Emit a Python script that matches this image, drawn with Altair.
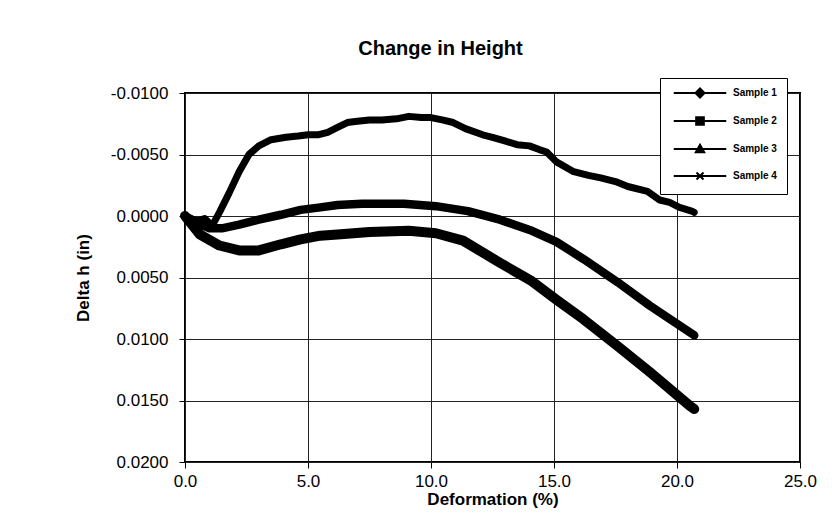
import altair as alt
import pandas as pd

samples = ["Sample 1", "Sample 2", "Sample 3", "Sample 4"]

s1_x = [0.0, 0.5, 0.8, 1.1, 1.4, 1.8, 2.2, 2.6, 3.0, 3.5, 4.1, 4.6, 5.0, 5.4, 5.8, 6.2,
        6.6, 7.0, 7.5, 8.0, 8.6, 9.1, 9.6, 10.0, 10.5, 10.9, 11.4, 12.1, 12.5, 13.0, 13.5,
        14.0, 14.4, 14.7, 15.1, 15.8, 16.4, 16.9, 17.5, 18.0, 18.8, 19.3, 19.7, 20.1, 20.6, 20.7]
s1_y = [0.0, 0.0004, 0.0002, 0.0008, -0.0003, -0.0019, -0.0036, -0.0050, -0.0057, -0.0062,
        -0.0064, -0.0065, -0.0066, -0.0066, -0.0068, -0.0072, -0.0076, -0.0077, -0.0078,
        -0.0078, -0.0079, -0.0081, -0.0080, -0.0080, -0.0078, -0.0076, -0.0071, -0.0066,
        -0.0064, -0.0061, -0.0058, -0.0057, -0.0054, -0.0052, -0.0044, -0.0036, -0.0033,
        -0.0031, -0.0028, -0.0024, -0.0020, -0.0013, -0.0011, -0.0007, -0.0004, -0.0003]

s2_x = [0.0, 0.5, 1.0, 1.5, 2.2, 3.0, 3.9, 4.7, 5.5, 6.2, 7.2, 8.9, 10.2, 11.5, 12.8,
        14.1, 15.1, 16.2, 17.6, 18.9, 20.7]
s2_y = [0.0, 0.0006, 0.0010, 0.0010, 0.0007, 0.0003, -0.0001, -0.0005, -0.0007, -0.0009,
        -0.0010, -0.0010, -0.0008, -0.0004, 0.0003, 0.0012, 0.0021, 0.0035, 0.0054, 0.0073,
        0.0097]

s3_x = [0.0, 0.6, 1.4, 2.2, 3.0, 3.9, 4.7, 5.5, 6.2, 7.5, 9.1, 10.2, 11.3, 12.8,
        14.1, 15.1, 16.2, 17.6, 18.9, 20.5, 20.7]
s3_y = [0.0, 0.0015, 0.0024, 0.0028, 0.0028, 0.0023, 0.0019, 0.0016, 0.0015,
        0.0013, 0.0012, 0.0014, 0.0020, 0.0038, 0.0053, 0.0068, 0.0084, 0.0106, 0.0127,
        0.0154, 0.0157]

x_ticks = [0, 5, 10, 15, 20, 25]
y_ticks = [-0.01, -0.005, 0.0, 0.005, 0.01, 0.015, 0.02]

frames = []
for name, xs, ys in [("Sample 1", s1_x, s1_y), ("Sample 2", s2_x, s2_y), ("Sample 3", s3_x, s3_y)]:
    frames.append(pd.DataFrame({"sample": name, "x": xs, "y": ys, "order": range(len(xs))}))
df = pd.concat(frames, ignore_index=True)

# one legend key per sample, with no position (nothing is drawn for it)
keys_df = pd.DataFrame({"sample": samples, "x": [None] * 4, "y": [None] * 4})

FONT = "Liberation Sans"

legend_shapes = [
    "M-7.5,0H7.5M0,-1.3L1.3,0L0,1.3L-1.3,0Z",
    "M-7.5,0H7.5M-1.1,-1.1H1.1V1.1H-1.1Z",
    "M-7.5,0H7.5M0,-1.2L1.2,0.9L-1.2,0.9Z",
    "M-7.5,0H7.5M-1,-1L1,1M1,-1L-1,1",
]

x_enc = alt.X(
    "x:Q",
    scale=alt.Scale(domain=[0, 25], nice=False),
    axis=alt.Axis(
        title="Deformation (%)",
        values=x_ticks,
        format=".1f",
        grid=True,
        gridColor="#222",
        gridWidth=1,
        domain=False,
        tickSize=6,
        tickColor="black",
        labelFlush=False,
        labelPadding=5,
        labelFontSize=17,
        labelFont=FONT,
        labelColor="black",
        titleFont=FONT,
        titleFontSize=17,
        titleFontWeight="bold",
        titleColor="black",
        titlePadding=2,
    ),
)
y_enc = alt.Y(
    "y:Q",
    scale=alt.Scale(domain=[-0.01, 0.02], reverse=True, nice=False),
    axis=alt.Axis(
        title="Delta h (in)",
        values=y_ticks,
        labelExpr="(datum.value < 0 ? '-' : '') + format(abs(datum.value), '.4f')",
        grid=True,
        gridColor="#222",
        gridWidth=1,
        domain=False,
        tickSize=6,
        tickColor="black",
        labelFlush=False,
        labelPadding=11,
        labelFontSize=17,
        labelFont=FONT,
        labelColor="black",
        titleFont=FONT,
        titleFontSize=17,
        titleFontWeight="bold",
        titleColor="black",
        titlePadding=18,
    ),
)


def make_legend():
    return alt.Legend(
        title=None,
        orient="none",
        legendX=475,
        legendY=-15,
        padding=10,
        strokeColor="black",
        fillColor="white",
        symbolSize=49,
        symbolOffset=25,
        labelOffset=28,
        rowPadding=11,
        symbolOpacity=1,
        symbolFillColor="black",
        symbolStrokeColor="black",
        symbolStrokeWidth=2,
        labelFont=FONT,
        labelFontSize=10,
        labelFontWeight="bold",
        labelColor="black",
    )


lines = alt.Chart(df).mark_line(strokeJoin="round", strokeCap="round").encode(
    x=x_enc,
    y=y_enc,
    color=alt.Color(
        "sample:N",
        scale=alt.Scale(domain=samples, range=["black"] * 4),
        legend=make_legend(),
    ),
    strokeWidth=alt.StrokeWidth(
        "sample:N",
        scale=alt.Scale(domain=samples[:3], range=[7, 10, 9]),
        legend=None,
    ),
    order="order:Q",
)

keys = alt.Chart(keys_df).mark_point(filled=True, size=49, opacity=1).encode(
    x="x:Q",
    y="y:Q",
    color=alt.Color("sample:N"),
    shape=alt.Shape(
        "sample:N",
        scale=alt.Scale(domain=samples, range=legend_shapes),
        legend=make_legend(),
    ),
)

chart = alt.layer(lines, keys).properties(
    width=615,
    height=369,
    title=alt.TitleParams(
        "Change in Height",
        font=FONT,
        fontSize=20,
        fontWeight="bold",
        color="black",
        anchor="middle",
        dx=-52,
        offset=19,
    ),
    padding={"left": 177, "top": 85, "right": 20, "bottom": 56},
    autosize=alt.AutoSizeParams(type="none"),
    background="white",
).configure_view(
    stroke="black",
    strokeWidth=2,
    fill="white",
)

chart.save("out.html", embed_options={"renderer": "svg", "actions": False})
